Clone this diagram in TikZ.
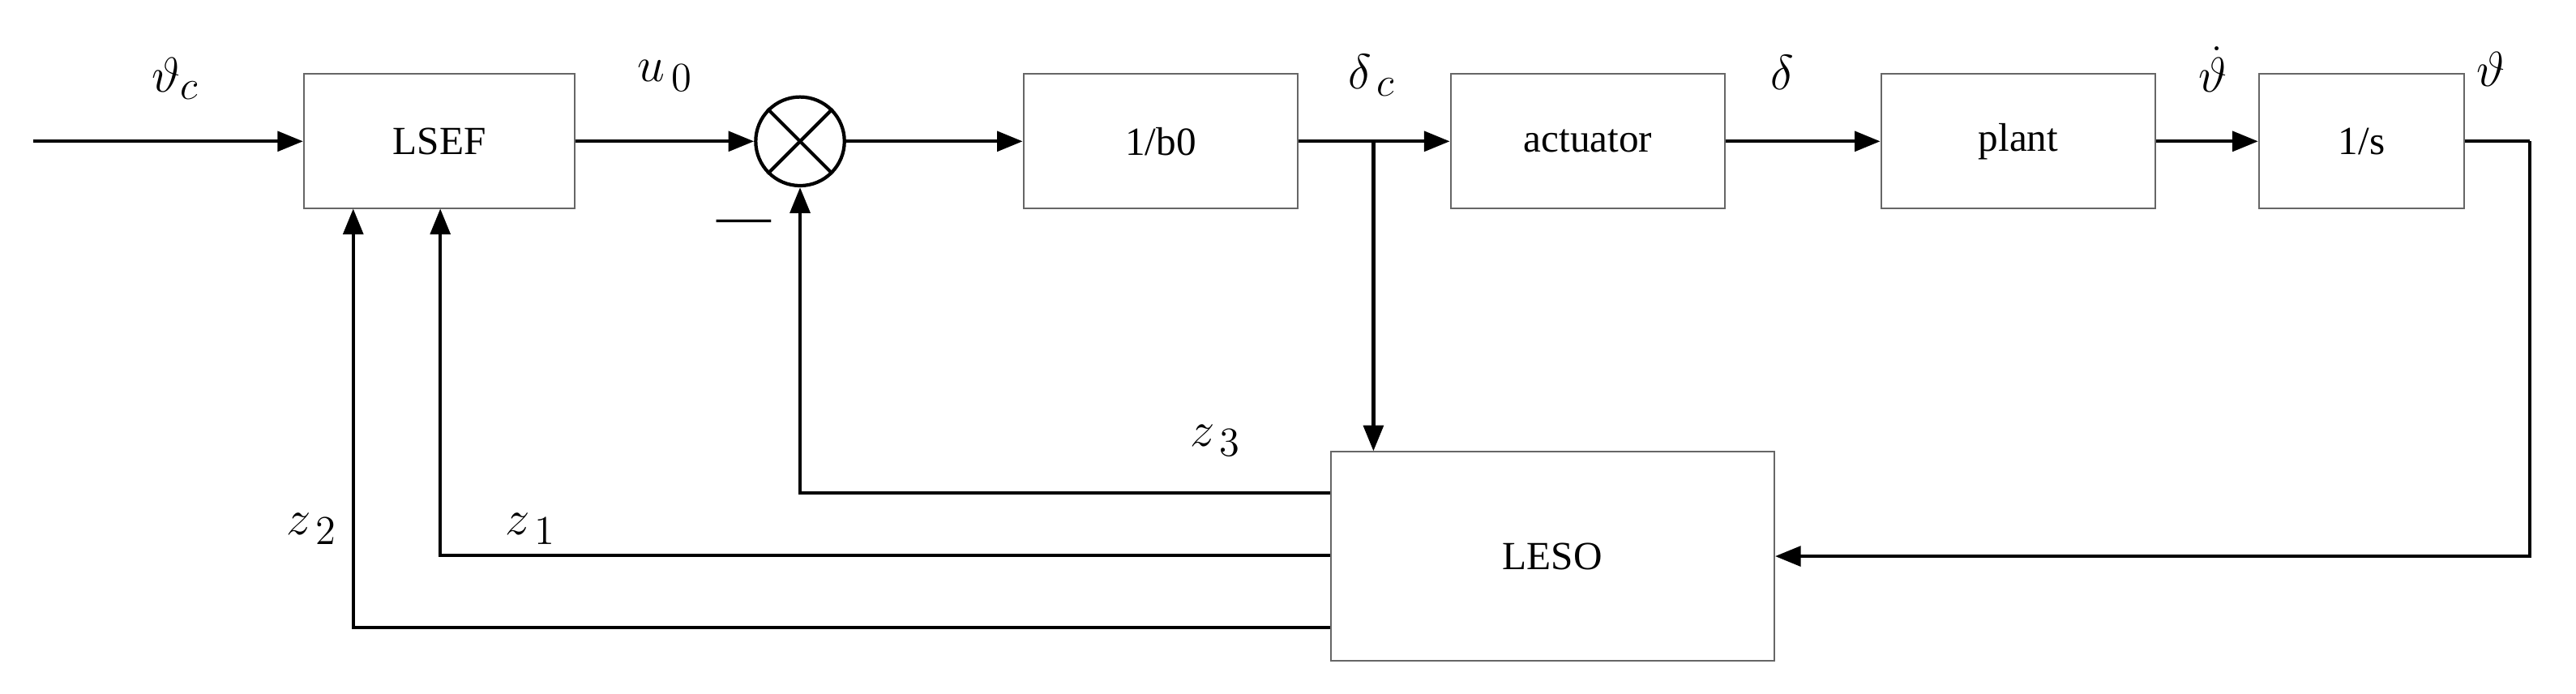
\documentclass[tikz,border=0pt]{standalone}
\usepackage{fontspec}
\setmainfont{Liberation Serif}
\usetikzlibrary{arrows.meta}
\begin{document}
\begin{tikzpicture}[x=0.02027cm,y=-0.02027cm,
 blk/.style={draw=black!60,line width=0.6pt,minimum height=82*0.02027cm,inner sep=0pt,font=\fontsize{14}{16}\selectfont},
 ar/.style={-{Triangle[length=9pt,width=7pt]},line width=1.2pt},
 ln/.style={line width=1.2pt},
 lb/.style={font=\fontsize{19}{21}\selectfont,inner sep=1pt}]
\useasboundingbox (0,0) rectangle (1568,422);
\node[blk,minimum width=165*0.02027cm] (lsef) at (267.5,86) {LSEF};
\node[draw,line width=1.2pt,circle,minimum size=54*0.02027cm,inner sep=0pt] (sum) at (487,86) {};
\draw[line width=1.2pt] (sum.north west)--(sum.south east) (sum.north east)--(sum.south west);
\node[blk,minimum width=167*0.02027cm] (b0) at (706.5,86) {1/b0};
\node[blk,minimum width=167*0.02027cm] (act) at (966.5,86) {actuator};
\node[blk,minimum width=167*0.02027cm] (pl) at (1228.5,86) {plant};
\node[blk,minimum width=125*0.02027cm] (int) at (1437.5,86) {1/s};
\node[blk,minimum width=270*0.02027cm,minimum height=127*0.02027cm] (leso) at (945,338.5) {LESO};
\coordinate (in) at (20,86);
\coordinate (br) at (836,86);
\coordinate (out) at (1540,86);
\draw[ar] (in)--(lsef);
\draw[ar] (lsef)--(sum);
\draw[ar] (sum)--(b0);
\draw[ar] (b0)--(act);
\draw[ar] (act)--(pl);
\draw[ar] (pl)--(int);
\draw[ln] (int)--(out);
\draw[ar] (br)--(br|-leso.north);
\draw[ar] (out)|-(leso.east);
\draw[ar] (leso.west|-0,300)-|(sum.south);
\draw[ar] (leso.west|-0,338)-|(268,127);
\draw[ar] (leso.west|-0,382)-|(215,127);
\node[lb] (l1) at (107,48) {$\vartheta_c$};
\node[lb] (l2) at (405,46) {$u_{\,0}$};
\node[lb] (l3) at (835,46) {$\delta_{\,c}$};
\node[lb] (l4) at (1085,44) {$\delta$};
\node[lb] (l5) at (1347,42) {$\dot\vartheta$};
\node[lb] (l6) at (1516,42) {$\vartheta$};
\node[lb] (l7) at (740,268) {$z_{\,3}$};
\node[lb] (l8) at (323,322) {$z_{\,1}$};
\node[lb] (l9) at (190,322) {$z_{\,2}$};
\node[lb] (m) at (453,138) {—};
\end{tikzpicture}
\end{document}
